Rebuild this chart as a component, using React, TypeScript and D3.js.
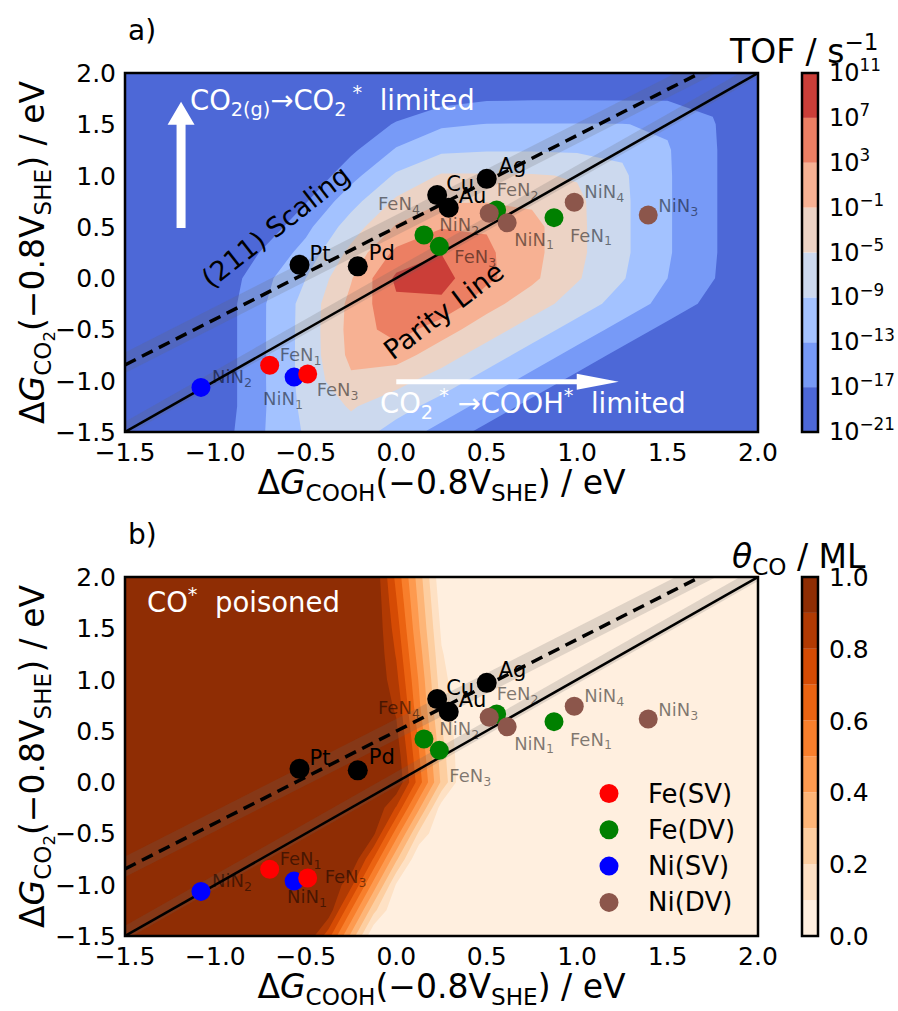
import React from "react";
import * as d3 from "d3";

// ---- TOF map: grid of log10(TOF / s^-1) ----
// columns: ΔG_COOH, rows: ΔG_CO2 from top (2.0) to bottom (-1.5)
const tofGridX = [-1.5, -1.25, -1, -0.75, -0.5, -0.25, 0, 0.25, 0.5, 0.75, 1, 1.25, 1.5, 1.75, 2];
const tofGridY = [2, 1.75, 1.5, 1.25, 1, 0.75, 0.5, 0.25, 0, -0.25, -0.5, -0.75, -1, -1.25, -1.5];
const logTOF = [
  [-46, -44, -42, -40, -36, -31, -26, -22, -21.5, -21.5, -21.5, -21.5, -21.5, -22, -23],
  [-44, -42, -40, -37, -32, -27, -22, -18.5, -17.4, -17.3, -17.3, -17.3, -17.3, -17.6, -21],
  [-42, -40, -38, -34, -28, -21.8, -16.4, -13.6, -12.9, -12.85, -12.85, -12.9, -13.5, -16.75, -20.6],
  [-40, -38, -36, -30, -24, -17.8, -12.6, -9.8, -9.3, -9.3, -9.5, -9.6, -12.7, -16.6, -20.6],
  [-38, -36, -33, -27, -20.5, -14.4, -8.4, -4.6, -4.6, -4.7, -5.3, -8.4, -12.6, -16.6, -20.6],
  [-36, -34, -30, -23.5, -17.3, -10.5, -4.3, -1.3, -1.2, -1.6, -4.2, -8.2, -12.6, -16.6, -20.6],
  [-34, -31, -26, -20, -14.1, -7, -0.6, 2.7, 2.7, 0.2, -4.1, -8.2, -12.6, -16.6, -20.6],
  [-32, -29, -23, -16.8, -11.5, -3.9, 4, 6.9, 3.7, 0.2, -4.1, -8.2, -12.6, -16.6, -20.6],
  [-30, -27, -20.5, -14.6, -9, -1.3, 7.8, 8.3, 4, -0.2, -4.6, -8.7, -13, -16.8, -20.8],
  [-30, -26.3, -20, -13.75, -7.6, 0.1, 6.3, 6.3, 0.4, -3.1, -6.9, -10.7, -14.4, -18.3, -22.3],
  [-30, -26.3, -20, -13.75, -7.5, 0.33, 5, 0.66, -3.1, -6.9, -10.7, -14.4, -18.3, -22.3, -26.3],
  [-30, -26.3, -20, -13.75, -7.5, 0, 0.7, -3.1, -6.9, -10.7, -14.4, -18.3, -22.3, -26.3, -30],
  [-30, -26.3, -20, -13.75, -7.5, -1.7, -3.7, -6.9, -10.7, -14.4, -18.3, -22.3, -26.3, -30, -34],
  [-30, -26.3, -20, -13.75, -7.9, -4.6, -7.25, -10.7, -14.4, -18.3, -22.3, -26.3, -30, -34, -38],
  [-30, -26, -19.5, -13.5, -8.5, -6.6, -10.7, -14.4, -18.3, -22.3, -26.3, -30, -34, -38, -42],
];
const tofLevels = [-21, -17, -13, -9, -5, -1, 3, 7, 11];
const tofColors = ["#4d68d7", "#779af7", "#a3c2ff", "#ccd9ee", "#ecd3c5", "#f7b193", "#ec7f63", "#cb3e38"];

// ---- CO coverage map (panel b) ----
const covGridX = [-1.5, -1.375, -1.25, -1.125, -1, -0.875, -0.75, -0.625, -0.5, -0.375, -0.25, -0.125, 0, 0.125, 0.25, 0.375, 0.5, 0.625, 0.75, 0.875, 1, 1.125, 1.25, 1.375, 1.5, 1.625, 1.75, 1.875, 2];
const covGridY = [2, 1.75, 1.5, 1.25, 1, 0.75, 0.5, 0.25, 0, -0.25, -0.5, -0.75, -1, -1.25, -1.5];
const thetaCO = [
  [1, 1, 1, 1, 1, 1, 1, 1, 1, 1, 1, 0.99, 0.67, 0.35, 0.02, 0, 0, 0, 0, 0, 0, 0, 0, 0, 0, 0, 0, 0, 0],
  [1, 1, 1, 1, 1, 1, 1, 1, 1, 1, 1, 1, 0.71, 0.38, 0.05, 0, 0, 0, 0, 0, 0, 0, 0, 0, 0, 0, 0, 0, 0],
  [1, 1, 1, 1, 1, 1, 1, 1, 1, 1, 1, 1, 0.75, 0.41, 0.08, 0, 0, 0, 0, 0, 0, 0, 0, 0, 0, 0, 0, 0, 0],
  [1, 1, 1, 1, 1, 1, 1, 1, 1, 1, 1, 1, 0.79, 0.45, 0.11, 0, 0, 0, 0, 0, 0, 0, 0, 0, 0, 0, 0, 0, 0],
  [1, 1, 1, 1, 1, 1, 1, 1, 1, 1, 1, 1, 0.83, 0.49, 0.14, 0, 0, 0, 0, 0, 0, 0, 0, 0, 0, 0, 0, 0, 0],
  [1, 1, 1, 1, 1, 1, 1, 1, 1, 1, 1, 1, 0.88, 0.52, 0.17, 0, 0, 0, 0, 0, 0, 0, 0, 0, 0, 0, 0, 0, 0],
  [1, 1, 1, 1, 1, 1, 1, 1, 1, 1, 1, 1, 0.92, 0.57, 0.21, 0, 0, 0, 0, 0, 0, 0, 0, 0, 0, 0, 0, 0, 0],
  [1, 1, 1, 1, 1, 1, 1, 1, 1, 1, 1, 1, 0.97, 0.61, 0.25, 0, 0, 0, 0, 0, 0, 0, 0, 0, 0, 0, 0, 0, 0],
  [1, 1, 1, 1, 1, 1, 1, 1, 1, 1, 1, 1, 1, 0.65, 0.28, 0, 0, 0, 0, 0, 0, 0, 0, 0, 0, 0, 0, 0, 0],
  [1, 1, 1, 1, 1, 1, 1, 1, 1, 1, 1, 1, 0.79, 0.42, 0.05, 0, 0, 0, 0, 0, 0, 0, 0, 0, 0, 0, 0, 0, 0],
  [1, 1, 1, 1, 1, 1, 1, 1, 1, 1, 1, 0.92, 0.55, 0.18, 0, 0, 0, 0, 0, 0, 0, 0, 0, 0, 0, 0, 0, 0, 0],
  [1, 1, 1, 1, 1, 1, 1, 1, 1, 1, 1, 0.69, 0.32, 0, 0, 0, 0, 0, 0, 0, 0, 0, 0, 0, 0, 0, 0, 0, 0],
  [1, 1, 1, 1, 1, 1, 1, 1, 1, 1, 0.83, 0.46, 0.09, 0, 0, 0, 0, 0, 0, 0, 0, 0, 0, 0, 0, 0, 0, 0, 0],
  [1, 1, 1, 1, 1, 1, 1, 1, 1, 0.97, 0.6, 0.23, 0, 0, 0, 0, 0, 0, 0, 0, 0, 0, 0, 0, 0, 0, 0, 0, 0],
  [1, 1, 1, 1, 1, 1, 1, 1, 1, 0.74, 0.37, 0, 0, 0, 0, 0, 0, 0, 0, 0, 0, 0, 0, 0, 0, 0, 0, 0, 0],
];
const covLevels = [0, 0.1, 0.2, 0.3, 0.4, 0.5, 0.6, 0.7, 0.8, 0.9, 1.0];
const covTicks = [0, 0.2, 0.4, 0.6, 0.8, 1.0];

const axisTicks = [-1.5, -1, -0.5, 0, 0.5, 1, 1.5, 2];

// parity line and (211) scaling line, with their error bands (eV)
const parityLine = { slope: 1, intercept: 0, lo: -0.04, hi: 0.1 };
const scalingLine = { slope: 0.895, intercept: 0.497, lo: -0.08, hi: 0.12 };

// ---- adsorption energies ----
const metalNames = ["Pt", "Pd", "Cu", "Au", "Ag"];
const metalCOOH = [-0.535, -0.213, 0.226, 0.29, 0.5];
const metalCO2 = [0.13, 0.115, 0.81, 0.686, 0.968];

const feSVNames = ["FeN1", "FeN3"];
const feSVCOOH = [-0.7, -0.49];
const feSVCO2 = [-0.85, -0.935];
const feDVNames = ["FeN1", "FeN2", "FeN3", "FeN4"];
const feDVCOOH = [0.872, 0.555, 0.238, 0.153];
const feDVCO2 = [0.59, 0.665, 0.31, 0.42];
const niSVNames = ["NiN1", "NiN2"];
const niSVCOOH = [-0.565, -1.08];
const niSVCO2 = [-0.965, -1.065];
const niDVNames = ["NiN1", "NiN2", "NiN3", "NiN4"];
const niDVCOOH = [0.613, 0.514, 1.393, 0.984];
const niDVCO2 = [0.54, 0.632, 0.616, 0.74];

const groups = [
  { key: "niSV", label: "Ni(SV)", color: "#0000ff", names: niSVNames, gx: niSVCOOH, gy: niSVCO2 },
  { key: "feSV", label: "Fe(SV)", color: "#ff0000", names: feSVNames, gx: feSVCOOH, gy: feSVCO2 },
  { key: "feDV", label: "Fe(DV)", color: "#008000", names: feDVNames, gx: feDVCOOH, gy: feDVCO2 },
  { key: "niDV", label: "Ni(DV)", color: "#8c564b", names: niDVNames, gx: niDVCOOH, gy: niDVCO2 },
];
const legendOrder = ["feSV", "feDV", "niSV", "niDV"];

// ---- layout ----
const W = 898;
const H = 1011;
const PL = 125;
const PW = 633;
const PH = 359;
const CBX = 802;
const CBW = 16;
const FONT = "DejaVu Sans, Verdana, sans-serif";

const labelOffA: Record<string, [number, number]> = {
  Pt: [10, -4], Pd: [11, -6], Cu: [9, -4], Au: [10, -5], Ag: [12, -6],
  "feSV:FeN1": [10, -4], "feSV:FeN3": [9, 22],
  "niSV:NiN2": [11, -4], "niSV:NiN1": [-31, 28],
  "feDV:FeN4": [-46, -25], "feDV:FeN3": [15, 17], "feDV:FeN2": [0, -14], "feDV:FeN1": [16, 24],
  "niDV:NiN2": [-50, 18], "niDV:NiN1": [7, 23], "niDV:NiN4": [10, -4], "niDV:NiN3": [10, -3],
};
const labelOffB: Record<string, [number, number]> = {
  ...labelOffA,
  "feSV:FeN3": [17, 5],
  "niSV:NiN1": [-7, 22],
  "feDV:FeN3": [10, 32],
};

type Seg = { t: string; k?: "sub" | "sup" | "ss"; i?: boolean };

function Rich(props: {
  x: number; y: number; size: number; segs: Seg[];
  anchor?: string; fill?: string; opacity?: number; transform?: string;
}) {
  const { x, y, size, segs, anchor = "start", fill = "#000", opacity, transform } = props;
  let cur = 0;
  return (
    <text x={x} y={y} fontSize={size} textAnchor={anchor} fill={fill} fillOpacity={opacity}
      transform={transform} fontFamily={FONT} style={{ whiteSpace: "pre" }}>
      {segs.map((s, j) => {
        const off = s.k === "sub" ? 0.2 * size : s.k === "ss" ? 0.34 * size : s.k === "sup" ? -0.4 * size : 0;
        const dy = off - cur;
        cur = off;
        const fs = s.k === "ss" ? 0.5 * size : s.k ? 0.7 * size : size;
        return (
          <tspan key={j} dy={dy} fontSize={fs} fontStyle={s.i ? "italic" : "normal"}>{s.t}</tspan>
        );
      })}
    </text>
  );
}

const fmt = (v: number) => d3.format(".1f")(v).replace("-", "\u2212");

function contourPaths(values: number[][], gxs: number[], gys: number[], thresholds: number[],
  x: d3.ScaleLinear<number, number>, y: d3.ScaleLinear<number, number>) {
  const nx = gxs.length;
  const ny = gys.length;
  const gx = d3.scaleLinear().domain([0.5, nx - 0.5]).range([x(gxs[0]), x(gxs[nx - 1])]);
  const gy = d3.scaleLinear().domain([0.5, ny - 0.5]).range([y(gys[0]), y(gys[ny - 1])]);
  const proj = d3.geoTransform({
    point(px: number, py: number) {
      (this as any).stream.point(gx(px), gy(py));
    },
  });
  const path = d3.geoPath(proj);
  const cs = d3.contours().size([nx, ny]).thresholds(thresholds)(values.flat());
  return cs.map((c) => path(c as any) || "");
}

function Arrow({ x0, y0, x1, y1, shaft, headW, headL }: any) {
  const ang = Math.atan2(y1 - y0, x1 - x0);
  const len = Math.hypot(x1 - x0, y1 - y0);
  const pts = [
    [0, -shaft], [len - headL, -shaft], [len - headL, -headW], [len, 0],
    [len - headL, headW], [len - headL, shaft], [0, shaft],
  ];
  return (
    <polygon fill="#fff"
      transform={`translate(${x0},${y0}) rotate(${(ang * 180) / Math.PI})`}
      points={pts.map((p) => p.join(",")).join(" ")} />
  );
}

function Panel({ top, which }: { top: number; which: "a" | "b" }) {
  const isA = which === "a";
  const x = d3.scaleLinear().domain([-1.5, 2]).range([PL, PL + PW]);
  const y = d3.scaleLinear().domain([-1.5, 2]).range([top + PH, top]);
  const levels = isA ? tofLevels : covLevels;
  const colors = isA ? tofColors : covLevels.slice(0, -1).map((v, i) => d3.interpolateOranges((i + 0.5) / 10));
  const paths = isA
    ? contourPaths(logTOF, tofGridX, tofGridY, levels.slice(1, -1), x, y)
    : contourPaths(thetaCO, covGridX, covGridY, levels.slice(1, -1), x, y);
  const clip = `clip-${which}`;
  const offs = isA ? labelOffA : labelOffB;

  const lineFor = (l: typeof parityLine) => {
    const xs = [-1.5, 2];
    const band = d3.area<number>().x((v) => x(v))
      .y0((v) => y(l.slope * v + l.intercept + l.lo))
      .y1((v) => y(l.slope * v + l.intercept + l.hi));
    const line = d3.line<number>().x((v) => x(v)).y((v) => y(l.slope * v + l.intercept));
    return { band: band(xs) || "", line: line(xs) || "" };
  };
  const par = lineFor(parityLine);
  const sca = lineFor(scalingLine);

  // colorbar
  const cb = d3.scaleLinear().domain([levels[0], levels[levels.length - 1]]).range([top + PH, top]);
  const cbTicks = isA ? tofLevels : covTicks;

  const xLab: Seg[] = [{ t: "\u0394" }, { t: "G", i: true }, { t: "COOH", k: "sub" }, { t: "(\u22120.8V" }, { t: "SHE", k: "sub" }, { t: ") / eV" }];
  const yLab: Seg[] = [{ t: "\u0394" }, { t: "G", i: true }, { t: "CO", k: "sub" }, { t: "2", k: "ss" }, { t: "(\u22120.8V" }, { t: "SHE", k: "sub" }, { t: ") / eV" }];

  return (
    <g>
      <defs>
        <clipPath id={clip}>
          <rect x={PL} y={top} width={PW} height={PH} />
        </clipPath>
      </defs>
      <g clipPath={`url(#${clip})`}>
        <rect x={PL} y={top} width={PW} height={PH} fill={colors[0]} />
        {paths.map((d, i) => (
          <path key={i} d={d} fill={colors[i + 1]} fillRule="evenodd" />
        ))}
        <path d={sca.band} fill="#666" fillOpacity={0.2} />
        <path d={par.band} fill="#666" fillOpacity={0.2} />
        <path d={sca.line} stroke="#000" strokeWidth={3.5} strokeDasharray="12 7" fill="none" />
        <path d={par.line} stroke="#000" strokeWidth={2.5} fill="none" />
        {groups.map((g) =>
          g.names.map((n, i) => (
            <circle key={g.key + n} cx={x(g.gx[i])} cy={y(g.gy[i])} r={9.5} fill={g.color} />
          ))
        )}
        {metalNames.map((n, i) => (
          <circle key={n} cx={x(metalCOOH[i])} cy={y(metalCO2[i])} r={10} fill="#000" />
        ))}
        {groups.map((g) =>
          g.names.map((n, i) => {
            const o = offs[`${g.key}:${n}`];
            return (
              <Rich key={"l" + g.key + n} x={x(g.gx[i]) + o[0]} y={y(g.gy[i]) + o[1]} size={18}
                fill="#000" opacity={0.5} segs={[{ t: n.slice(0, -1) }, { t: n.slice(-1), k: "sub" }]} />
            );
          })
        )}
        {metalNames.map((n, i) => (
          <text key={"m" + n} x={x(metalCOOH[i]) + offs[n][0]} y={y(metalCO2[i]) + offs[n][1]}
            fontSize={21} fontFamily={FONT} fill="#000">{n}</text>
        ))}
      </g>

      {isA ? (
        <g>
          <Arrow x0={x(-1.19)} y0={y(0.49)} x1={x(-1.19)} y1={y(1.72)} shaft={4.5} headW={13.5} headL={23} />
          <Rich x={190} y={110} size={27.5} fill="#fff"
            segs={[{ t: "CO" }, { t: "2(g)", k: "sub" }, { t: "\u2192CO" }, { t: "2", k: "sub" }, { t: " *", k: "sup" }, { t: "  limited" }]} />
          <Rich x={0} y={9} size={27} anchor="middle" transform="translate(276,227) rotate(-38)"
            segs={[{ t: "(211) Scaling" }]} />
          <Rich x={0} y={9} size={27} anchor="middle" transform="translate(444,311) rotate(-37)"
            segs={[{ t: "Parity Line" }]} />
          <Arrow x0={x(0.0)} y0={y(-1.01)} x1={x(1.23)} y1={y(-1.01)} shaft={2.5} headW={8} headL={42} />
          <Rich x={380} y={413} size={27.5} fill="#fff"
            segs={[{ t: "CO" }, { t: "2", k: "sub" }, { t: " *", k: "sup" }, { t: " \u2192COOH" }, { t: "*", k: "sup" }, { t: "  limited" }]} />
        </g>
      ) : (
        <g>
          <Rich x={147} y={top + 35} size={27.5} fill="#fff" segs={[{ t: "CO" }, { t: "*", k: "sup" }, { t: "  poisoned" }]} />
          {legendOrder.map((k, i) => {
            const g = groups.find((gg) => gg.key === k)!;
            const cy = top + 216.5 + i * 36.3;
            return (
              <g key={k}>
                <circle cx={609} cy={cy} r={9.5} fill={g.color} />
                <text x={648} y={cy + 9} fontSize={26} fontFamily={FONT}>{g.label}</text>
              </g>
            );
          })}
        </g>
      )}

      <rect x={PL} y={top} width={PW} height={PH} fill="none" stroke="#000" strokeWidth={2.5} />

      {axisTicks.map((t) => (
        <text key={"x" + t} x={x(t)} y={top + PH + 29} fontSize={25} fontFamily={FONT} textAnchor="middle">{fmt(t)}</text>
      ))}
      {axisTicks.map((t) => (
        <text key={"y" + t} x={116} y={y(t) + 9} fontSize={25} fontFamily={FONT} textAnchor="end">{fmt(t)}</text>
      ))}
      <Rich x={PL + PW / 2} y={top + PH + 62} size={33} anchor="middle" segs={xLab} />
      <Rich x={0} y={0} size={33} anchor="middle" transform={`translate(44,${top + PH / 2}) rotate(-90)`} segs={yLab} />
      <text x={128} y={top - 33} fontSize={28} fontFamily={FONT}>{which + ")"}</text>

      {/* colorbar */}
      {colors.map((c, i) => (
        <rect key={"cb" + i} x={CBX} y={cb(levels[i + 1])} width={CBW} height={cb(levels[i]) - cb(levels[i + 1])} fill={c} />
      ))}
      <rect x={CBX} y={top} width={CBW} height={PH} fill="none" stroke="#000" strokeWidth={2.5} />
      {cbTicks.map((t) =>
        isA ? (
          <Rich key={"c" + t} x={829} y={cb(t) + 8} size={24}
            segs={[{ t: "10" }, { t: String(t).replace("-", "\u2212"), k: "sup" }]} />
        ) : (
          <text key={"c" + t} x={829} y={cb(t) + 9} fontSize={25} fontFamily={FONT}>{fmt(t)}</text>
        )
      )}
      {isA ? (
        <Rich x={730} y={top - 10} size={33} segs={[{ t: "TOF / s" }, { t: "\u22121", k: "sup" }]} />
      ) : (
        <Rich x={732} y={top - 9} size={33} segs={[{ t: "\u03b8", i: true }, { t: "CO", k: "sub" }, { t: " / ML" }]} />
      )}
    </g>
  );
}

export default function App() {
  return (
    <svg width={W} height={H} style={{ position: "absolute", left: 0, top: 0, background: "#fff" }}>
      <rect width={W} height={H} fill="#fff" />
      <Panel top={73} which="a" />
      <Panel top={577} which="b" />
    </svg>
  );
}
